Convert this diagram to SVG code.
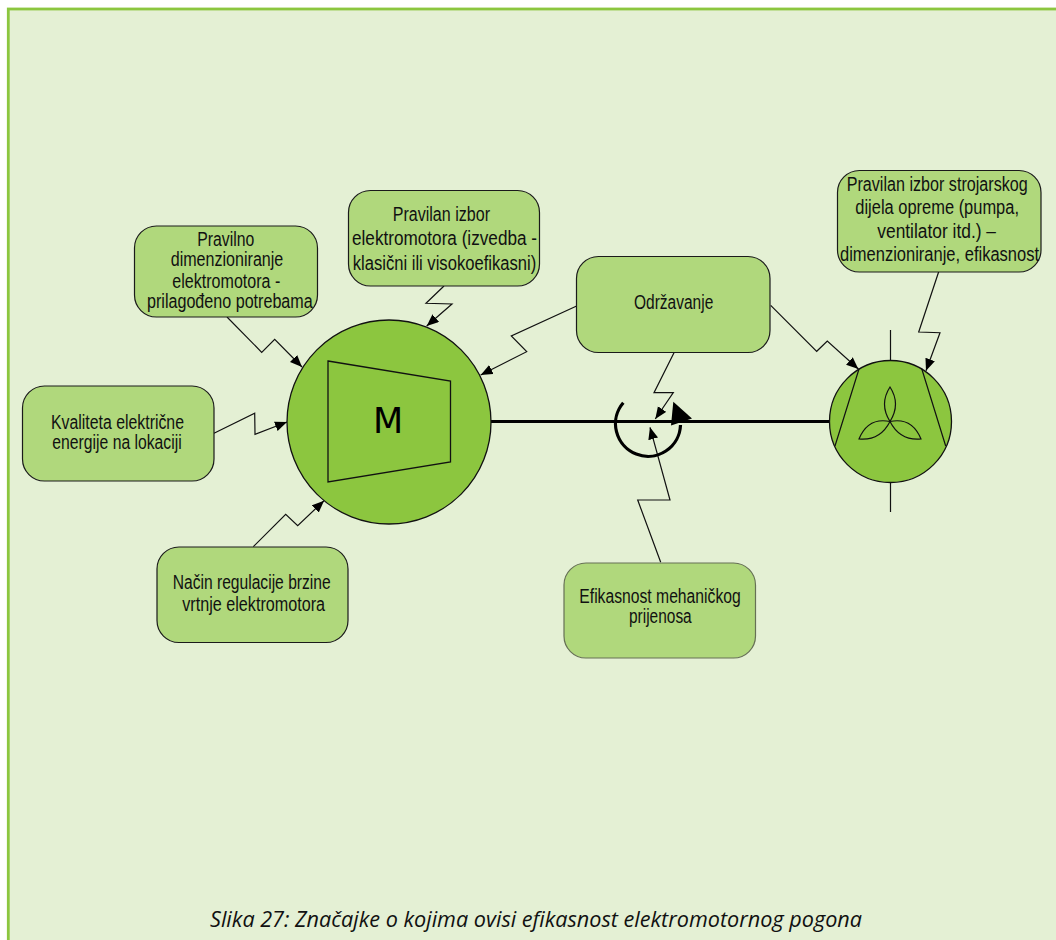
<svg xmlns="http://www.w3.org/2000/svg" width="1056" height="940" viewBox="0 0 1056 940">
<style>
.box{fill:#b0d87c;stroke:#1a1a1a;stroke-width:1.2}
.sym{fill:#8cc63f;stroke:#111;stroke-width:1.3}
.t{font-family:"Liberation Sans Narrow","Liberation Sans",sans-serif;font-size:20px;fill:#111}
.c{fill:none;stroke:#111;stroke-width:1.2;marker-end:url(#arrow)}
.l{fill:none;stroke:#111;stroke-width:1.2}
</style>
<defs>
<marker id="arrow" markerUnits="userSpaceOnUse" markerWidth="14" markerHeight="12" refX="12" refY="5" orient="auto">
<path d="M0,0 L12,5 L0,10 Z" fill="#000"/>
</marker>
</defs>
<rect width="1056" height="940" fill="#fff"/>
<rect x="8.3" y="9" width="1060" height="950" fill="#e4f0d4" stroke="#8cc63f" stroke-width="2.8"/>
<g id="connectors">
<path class="c" d="M227,317 L261.7,352.3 L274.7,339.3 L302,367"/>
<path class="c" d="M444,286 L426,303.3 L452,304 L426.7,326"/>
<path class="c" d="M214,433.3 L254.7,413.3 L255,434.3 L287,422"/>
<path class="c" d="M253.3,546.7 L285.7,514.3 L297.7,525.7 L324,500.7"/>
<path class="c" d="M578.3,305.3 L511.3,336 L526.7,351.7 L480.7,375"/>
<path class="c" d="M674,352.7 L654,392.7 L673.3,392.7 L655.3,419"/>
<path class="c" d="M770.7,305.3 L816.7,351.3 L827.3,341 L858.3,369"/>
<path class="c" d="M938.7,271.7 L918.7,332 L940,332.7 L926,370.7"/>
<path class="c" d="M660.7,562.3 L637.7,500 L670,500 L650,427.3"/>
<path id="shaft" fill="none" stroke="#000" stroke-width="3" d="M491,421.5 H830"/>
<path id="rotation-arc" fill="none" stroke="#000" stroke-width="3.2" d="M623.3,402.7 A32.5,32.5 0 1 0 680.5,425"/>
<path id="rotation-head" fill="#000" d="M673.3,401.7 L692,418.5 L671,425.5 Z"/>
</g>
<g id="motor">
<circle class="sym" cx="389" cy="422" r="102"/>
<path class="sym" d="M328,361 L450.5,381 L450.5,462 L328,482 Z"/>
<text x="388" y="433" text-anchor="middle" font-family="'DejaVu Sans',sans-serif" font-size="35" fill="#000">M</text>
</g>
<g id="fan">
<path class="l" d="M890.5,330 V361 M890.5,482 V512"/>
<circle class="sym" cx="890.5" cy="421.5" r="61"/>
<path class="l" d="M859.3,368 L835,446 M921.5,368 L945.7,446"/>
<path class="l" d="M890,387 Q879,404 890,421.5 Q901,404 890,387 Z M890,421.5 Q868,417 859,439 Q880,441 890,421.5 Z M890,421.5 Q912,417 921,439 Q900,441 890,421.5 Z"/>
</g>
<g id="n-dimenzioniranje">
<rect class="box" x="134.5" y="226" width="183" height="91" rx="22"/>
<text class="t" x="197.3" y="246" textLength="57" lengthAdjust="spacingAndGlyphs">Pravilno</text>
<text class="t" x="170.7" y="266" textLength="112.6" lengthAdjust="spacingAndGlyphs">dimenzioniranje</text>
<text class="t" x="172.3" y="287.7" textLength="108" lengthAdjust="spacingAndGlyphs">elektromotora -</text>
<text class="t" x="147" y="308.3" textLength="165.7" lengthAdjust="spacingAndGlyphs">prilagođeno potrebama</text>
</g>
<g id="n-izbor-motora">
<rect class="box" x="348.5" y="190.5" width="191" height="95.5" rx="22"/>
<text class="t" x="392.7" y="220.7" textLength="97.3" lengthAdjust="spacingAndGlyphs">Pravilan izbor</text>
<text class="t" x="352" y="245" textLength="185" lengthAdjust="spacingAndGlyphs">elektromotora (izvedba -</text>
<text class="t" x="352.7" y="270" textLength="183.5" lengthAdjust="spacingAndGlyphs">klasični ili visokoefikasni)</text>
</g>
<g id="n-kvaliteta">
<rect class="box" x="22.5" y="386" width="191.5" height="95" rx="22"/>
<text class="t" x="51" y="429.3" textLength="133" lengthAdjust="spacingAndGlyphs">Kvaliteta električne</text>
<text class="t" x="52.3" y="449.3" textLength="129.4" lengthAdjust="spacingAndGlyphs">energije na lokaciji</text>
</g>
<g id="n-regulacija">
<rect class="box" x="157" y="547" width="191" height="95.5" rx="22"/>
<text class="t" x="172.7" y="589.3" textLength="158" lengthAdjust="spacingAndGlyphs">Način regulacije brzine</text>
<text class="t" x="182.3" y="610.7" textLength="142.7" lengthAdjust="spacingAndGlyphs">vrtnje elektromotora</text>
</g>
<g id="n-odrzavanje">
<rect class="box" x="576.5" y="256.5" width="193.5" height="96" rx="22"/>
<text class="t" x="634" y="309.3" textLength="79.3" lengthAdjust="spacingAndGlyphs">Održavanje</text>
</g>
<g id="n-strojarski">
<rect class="box" x="837.5" y="170.5" width="203.5" height="101.5" rx="22"/>
<text class="t" x="846.7" y="190.7" textLength="181" lengthAdjust="spacingAndGlyphs">Pravilan izbor strojarskog</text>
<text class="t" x="855.3" y="214" textLength="163.7" lengthAdjust="spacingAndGlyphs">dijela opreme (pumpa,</text>
<text class="t" x="877.3" y="237.7" textLength="118.7" lengthAdjust="spacingAndGlyphs">ventilator itd.) –</text>
<text class="t" x="840" y="260.7" textLength="199" lengthAdjust="spacingAndGlyphs">dimenzioniranje, efikasnost</text>
</g>
<g id="n-prijenos">
<rect class="box" x="564" y="563" width="191.5" height="95" rx="22" style="stroke:#667055"/>
<text class="t" x="579.3" y="602.7" textLength="161.4" lengthAdjust="spacingAndGlyphs">Efikasnost mehaničkog</text>
<text class="t" x="629" y="622.7" textLength="62.7" lengthAdjust="spacingAndGlyphs">prijenosa</text>
</g>
<text id="caption" x="210" y="926.5" font-family="'Open Sans','Noto Sans',sans-serif" font-style="italic" font-size="22" fill="#111" textLength="652" lengthAdjust="spacingAndGlyphs">Slika 27: Značajke o kojima ovisi efikasnost elektromotornog pogona</text>
</svg>
